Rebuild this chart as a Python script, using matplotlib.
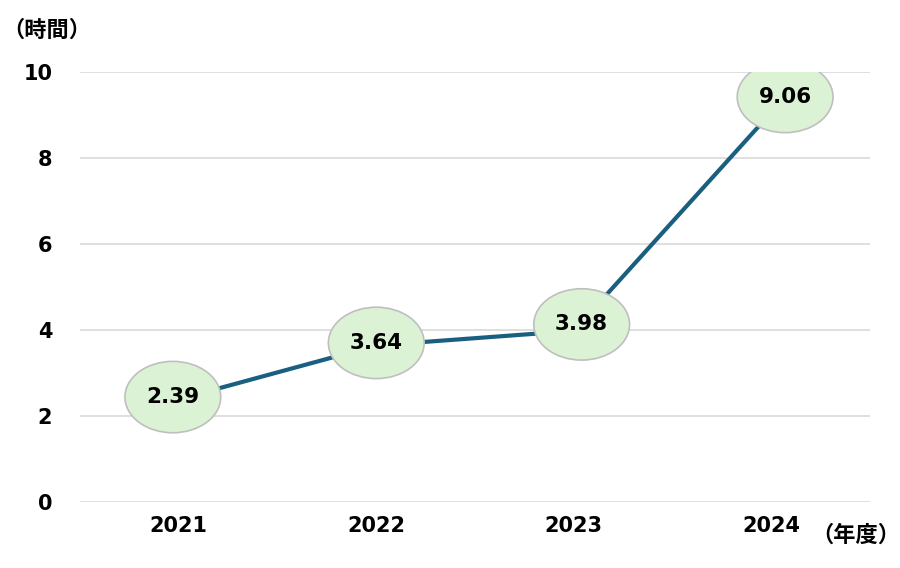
import matplotlib.pyplot as plt
from matplotlib.patches import Ellipse

plt.rcParams['font.family'] = ['DejaVu Sans', 'Noto Sans CJK JP']

years = ['2021', '2022', '2023', '2024']
hours = [2.39, 3.64, 3.98, 9.06]
# label bubble offsets from the data point (data units)
label_dx = [-0.03, 0.0, 0.04, 0.07]
label_dy = [0.05, 0.06, 0.15, 0.36]

fig = plt.figure(figsize=(9, 5.68), dpi=100)
ax = fig.add_axes([0.0889, 0.1162, 0.8778, 0.7570])

x = list(range(len(years)))
ax.plot(x, hours, color='#1a5f80', lw=3, zorder=3, solid_capstyle='butt')

for i, v in enumerate(hours):
    cx = x[i] + label_dx[i]
    cy = v + label_dy[i]
    ax.add_patch(Ellipse((cx, cy), 0.485, 1.66, facecolor='#dcf2d4',
                         edgecolor='#bfbfbf', lw=1.2, zorder=4))
    ax.text(cx, cy, f'{v:.2f}', ha='center', va='center', fontsize=15.5,
            fontweight='bold', zorder=5)

ax.set_xlim(-0.5, 3.5)
ax.set_ylim(0, 10)
ax.set_yticks([0, 2, 4, 6, 8, 10])
ax.set_xticks(x)
ax.set_xticklabels(years)
ax.grid(axis='y', color='#d9d9d9', lw=1.2)
ax.set_axisbelow(True)
for s in ax.spines.values():
    s.set_visible(False)
ax.tick_params(length=0, labelsize=15, pad=10)
ax.tick_params(axis='y', pad=20)
for lab in ax.get_xticklabels() + ax.get_yticklabels():
    lab.set_fontweight('bold')

fig.text(0.052, 0.947, '（時間）', ha='center', va='center', fontsize=16,
         fontweight='bold', family=['Noto Sans CJK JP', 'DejaVu Sans'])
fig.text(0.951, 0.058, '（年度）', ha='center', va='center', fontsize=16,
         fontweight='bold', family=['Noto Sans CJK JP', 'DejaVu Sans'])

fig.savefig('out.png', dpi=100, facecolor='white')
